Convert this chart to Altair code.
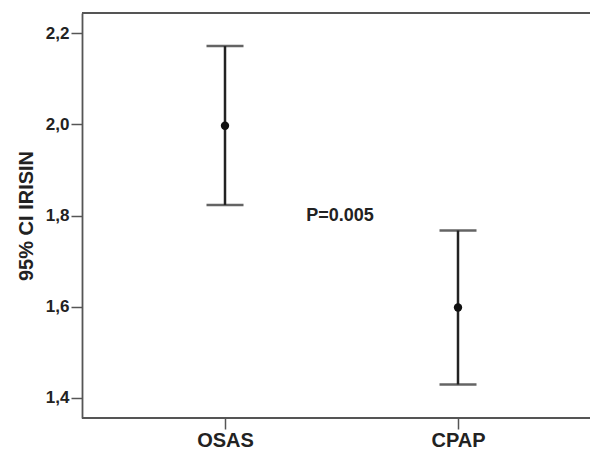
import altair as alt
import pandas as pd

groups = ["OSAS", "CPAP"]
means = [1.997, 1.598]
lowers = [1.823, 1.429]
uppers = [2.172, 1.767]
y_ticks = [1.4, 1.6, 1.8, 2.0, 2.2]
annotation = "P=0.005"
annotation_y = 1.80

df = pd.DataFrame({"group": groups, "mean": means, "lo": lowers, "hi": uppers})

W, H = 508, 405
FONT = "Liberation Sans"
LINE = "#222222"
AX = "#555555"

xenc = alt.X("group:N", sort=groups,
             scale=alt.Scale(type="point", domain=groups, range=[143, 376], padding=0),
             axis=alt.Axis(title=None, labelFont=FONT, labelFontSize=20, labelFontWeight="bold",
                           labelColor="#222", labelAngle=0, tickSize=11, tickWidth=1.5, tickColor=AX,
                           domain=False, labelPadding=1, grid=False))
yscale = alt.Scale(domain=[1.3554, 2.2446], nice=False, zero=False)

base = alt.Chart(df)

bars = base.mark_rule(color=LINE, strokeWidth=2.5).encode(
    x=xenc,
    y=alt.Y("lo:Q", scale=yscale,
            axis=alt.Axis(values=y_ticks, title="95% CI IRISIN", titleFont=FONT, titleFontSize=20,
                          titleFontWeight="bold", titleColor="#222", titleX=-56, titleY=H / 2,
                          titleAngle=-90, titleBaseline="middle", titleAlign="center",
                          labelFont=FONT, labelFontSize=17, labelFontWeight="bold", labelColor="#222",
                          labelExpr="replace(format(datum.value, '.1f'), '.', ',')",
                          tickSize=11, tickWidth=1.5, tickColor=AX, domainColor=AX, domainWidth=1.8,
                          labelPadding=2, grid=False)),
    y2="hi:Q",
)
cap_hi = base.mark_tick(color=LINE, size=37, thickness=2.5, orient="horizontal").encode(
    x=alt.X("group:N", sort=groups), y=alt.Y("hi:Q", scale=yscale))
cap_lo = base.mark_tick(color=LINE, size=37, thickness=2.5, orient="horizontal").encode(
    x=alt.X("group:N", sort=groups), y=alt.Y("lo:Q", scale=yscale))
pts = base.mark_point(filled=True, color="#111", size=70, opacity=1).encode(
    x=alt.X("group:N", sort=groups), y=alt.Y("mean:Q", scale=yscale))

frame = alt.Chart(pd.DataFrame({"a": [0]}))
top = frame.mark_rule(color=AX, strokeWidth=1.8).encode(
    x=alt.value(0), x2=alt.value(W), y=alt.value(0))
bottom = frame.mark_rule(color=AX, strokeWidth=1.8).encode(
    x=alt.value(0), x2=alt.value(W), y=alt.value(H))

txt = alt.Chart(pd.DataFrame({"t": [annotation], "y": [annotation_y]})).mark_text(
    font=FONT, fontSize=18, fontWeight="bold", color="#222", align="center", baseline="middle"
).encode(x=alt.value(258), y=alt.Y("y:Q", scale=yscale), text="t:N")

chart = alt.layer(bars, cap_hi, cap_lo, pts, txt, top, bottom).properties(
    width=W, height=H,
    autosize=alt.AutoSizeParams(type="none"),
    padding={"left": 74, "top": 5, "right": 0, "bottom": 32},
).configure_view(stroke=None).configure(background="white")

chart.save("out.html", embed_options={"renderer": "svg", "actions": False})
